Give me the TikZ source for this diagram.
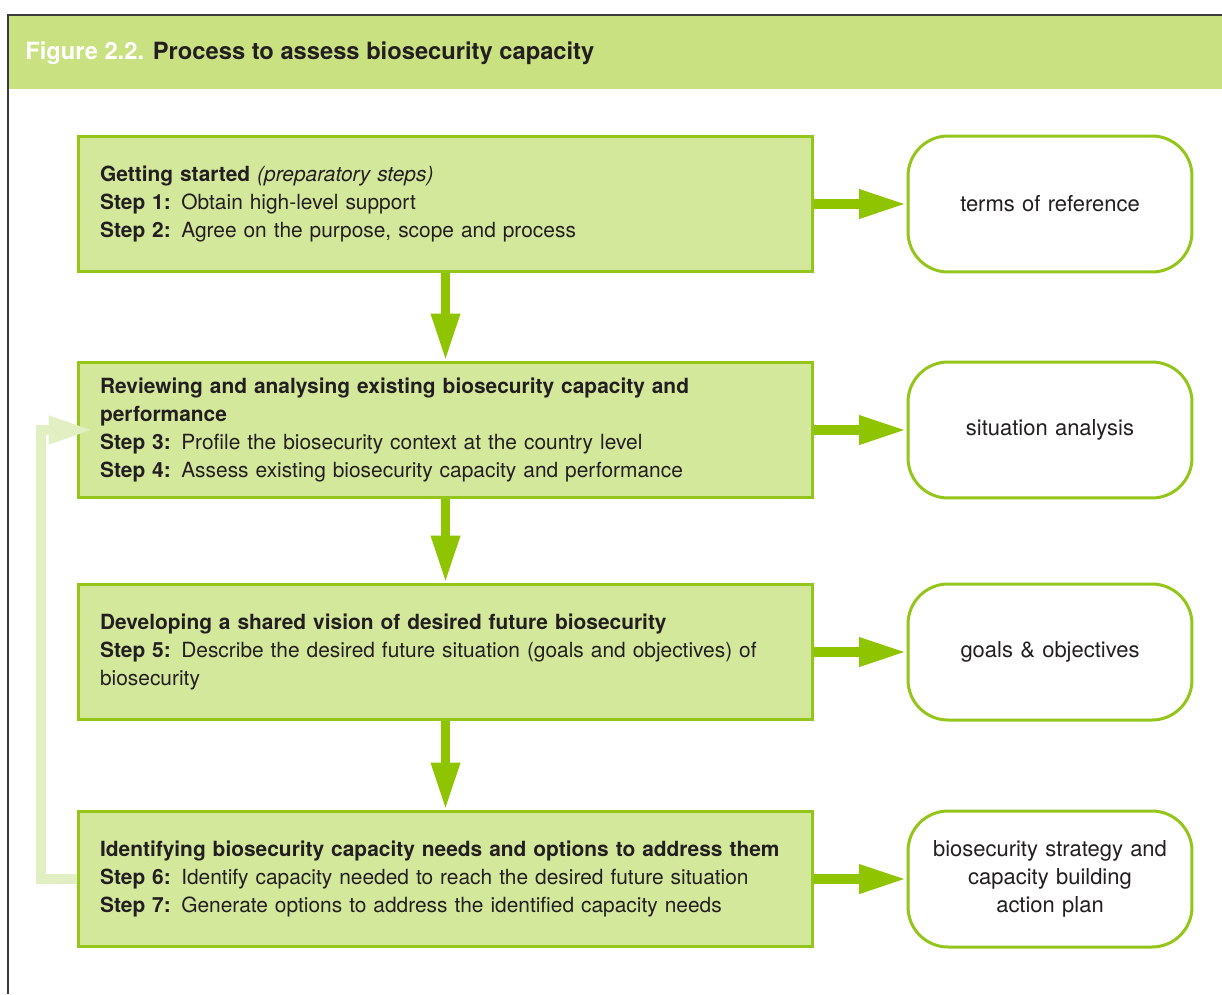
\documentclass[tikz,border=0pt]{standalone}
\usepackage{fontspec}
\setmainfont{TeX Gyre Heros}
\usetikzlibrary{arrows.meta}
\definecolor{hdrgreen}{HTML}{C9E181}
\definecolor{boxgreen}{HTML}{D4E89C}
\definecolor{linegreen}{HTML}{94C51A}
\definecolor{arrgreen}{HTML}{8EC400}
\definecolor{backgreen}{HTML}{E1EFC3}
\definecolor{txtgrey}{HTML}{231F20}
\definecolor{framegrey}{HTML}{3A3A3A}

\tikzset{
	stepbox/.style={draw=linegreen,line width=0.06cm,fill=boxgreen,minimum width=14.7cm,minimum height=2.7cm,text width=13.82cm,inner xsep=0.44cm,align=left,text=txtgrey,font=\fontsize{11.9}{15.9}\selectfont},
	outbox/.style={draw=linegreen,line width=0.06cm,fill=white,rounded corners=0.8cm,minimum width=5.68cm,minimum height=2.72cm,text width=5.3cm,align=center,text=txtgrey,font=\fontsize{12.5}{15.9}\selectfont},
	flow/.style={arrgreen,line width=0.19cm,-{Triangle[length=0.95cm,width=0.54cm]}},
	loopback/.style={backgreen,line width=0.2cm,-{Triangle[length=0.9cm,width=0.52cm]}}
}

\begin{document}
\begin{tikzpicture}[x=0.02cm,y=-0.02cm]
	\useasboundingbox (0,0) rectangle (1222,994);
	% header band and frame
	\fill[hdrgreen] (8,15) rectangle (1222,89);
	\draw[framegrey,line width=0.03cm] (8,994) -- (8,15) -- (1222,15);
	\node[anchor=base west,inner sep=0pt,font=\fontsize{13.5}{15}\selectfont\bfseries] (title) at (25,59) {\textcolor{white}{Figure 2.2.} \textcolor{txtgrey}{Process to assess biosecurity capacity}};

	% process steps
	\node[stepbox] (getstart) at (445.5,204) {\textbf{Getting started} \textit{(preparatory steps)}\\ \textbf{Step 1:} Obtain high-level support\\ \textbf{Step 2:} Agree on the purpose, scope and process};
	\node[stepbox] (review) at (445.5,430) {\textbf{Reviewing and analysing existing biosecurity capacity and}\\ \textbf{performance}\\ \textbf{Step 3:} Profile the biosecurity context at the country level\\ \textbf{Step 4:} Assess existing biosecurity capacity and performance};
	\node[stepbox] (vision) at (445.5,652) {\textbf{Developing a shared vision of desired future biosecurity}\\ \textbf{Step 5:} Describe the desired future situation (goals and objectives) of\\ biosecurity};
	\node[stepbox] (idneeds) at (445.5,879) {\textbf{Identifying biosecurity capacity needs and options to address them}\\ \textbf{Step 6:} Identify capacity needed to reach the desired future situation\\ \textbf{Step 7:} Generate options to address the identified capacity needs};

	% outputs
	\node[outbox] (tor) at (1050,204) {terms of reference};
	\node[outbox] (sitan) at (1050,430) {situation analysis};
	\node[outbox] (goals) at (1050,652) {goals \& objectives};
	\node[outbox] (plan) at (1050,879) {biosecurity strategy and\\ capacity building\\ action plan};

	% arrows
	\draw[flow] (getstart) -- (review);
	\draw[flow] (review) -- (vision);
	\draw[flow] (vision) -- (idneeds);
	\draw[flow] (getstart.east) -- (tor.west);
	\draw[flow] (review.east) -- (sitan.west);
	\draw[flow] (vision.east) -- (goals.west);
	\draw[flow] (idneeds.east) -- (plan.west);
	\draw[loopback] (idneeds.west) -- ++(-36,0) |- ([xshift=0.34cm]review.west);
\end{tikzpicture}
\end{document}
